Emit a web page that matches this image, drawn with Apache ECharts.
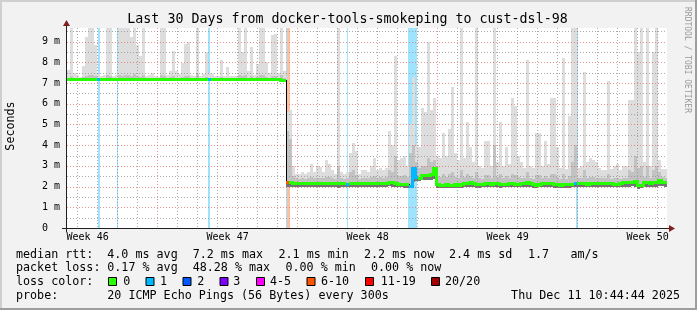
<!DOCTYPE html>
<html><head><meta charset="utf-8">
<script src="https://cdn.jsdelivr.net/npm/echarts@6/dist/echarts.min.js"></script>
<style>html,body{margin:0;padding:0;background:#f2f2f2}#c{width:697px;height:310px}</style>
</head><body><div id="c"></div>
<script>
// ---------- data ----------
const STEP = 0.15; // days per sample column (30 days shown)
const pingMax = [
 7.63,9.7,7.5,7.4,7.3,7.84,9.24,9.7,9.7,8.84,
 7.45,7.35,7.4,9.7,9.7,7.35,7.4,9.7,9.7,9.7,
 9.7,9.24,9.7,8.84,8.32,9.7,7.35,7.4,7.5,7.35,
 7.3,9.7,9.7,7.4,7.6,8.55,7.6,7.45,7.96,8.9,
 9.0,7.4,7.35,9.7,7.35,7.45,8.5,7.5,7.45,7.35,
 7.35,8.1,7.35,7.8,7.35,7.35,7.35,9.7,8.5,9.7,
 7.6,8.75,7.4,7.9,9.7,9.7,8.0,7.5,9.3,9.35,
 7.5,9.7,7.6,
 5.6,5.7,3.0,2.6,2.6,2.7,2.6,2.7,3.1,2.7,
 3.0,2.95,2.7,3.3,3.1,2.8,2.6,9.7,2.7,2.6,
 2.7,3.6,4.1,3.7,2.6,2.8,2.8,2.7,3.0,3.4,
 2.8,2.9,2.8,2.9,4.7,4.0,8.3,3.3,3.4,3.5,
 3.0,5.0,7.3,4.0,3.9,5.8,5.6,9.0,5.7,6.3,
 3.5,3.4,4.6,3.5,4.8,6.8,3.6,3.3,9.7,3.4,
 5.1,3.9,3.2,9.7,3.0,2.9,4.2,4.2,3.0,9.7,
 3.2,5.1,3.0,3.9,3.1,6.3,5.9,3.5,3.2,2.9,
 8.1,3.0,2.9,4.6,4.6,3.0,4.2,3.1,6.3,6.3,
 3.9,2.9,8.2,2.85,5.4,9.7,9.7,2.9,3.0,7.55,
 3.2,3.4,3.3,3.2,2.9,2.8,2.8,7.1,2.85,3.0,
 3.1,2.8,3.0,3.0,6.2,6.2,9.7,8.5,9.7,3.2,
 9.7,3.0,8.5,9.7,3.3,2.85,2.85
];
const pingHi = [
 7.26,7.35,7.26,7.25,7.25,7.3,7.35,7.4,7.4,7.35,
 7.26,7.25,7.26,7.4,7.35,7.25,7.26,7.4,7.35,7.4,
 7.4,7.35,7.45,7.35,7.3,7.4,7.25,7.26,7.26,7.25,
 7.25,7.4,7.35,7.26,7.3,7.35,7.26,7.26,7.3,7.35,
 7.35,7.26,7.25,7.45,7.25,7.26,7.3,7.26,7.26,7.25,
 7.25,7.3,7.25,7.26,7.25,7.25,7.25,7.4,7.35,7.4,
 7.26,7.35,7.26,7.3,7.4,7.4,7.3,7.26,7.35,7.35,
 7.26,7.4,7.26,
 4.7,4.3,2.5,2.4,2.38,2.4,2.38,2.4,2.45,2.4,
 2.42,2.42,2.4,2.45,2.45,2.4,2.38,3.0,2.4,2.38,
 2.4,2.7,2.8,2.55,2.38,2.42,2.42,2.4,2.45,2.5,
 2.42,2.45,2.42,2.45,2.8,2.7,3.5,2.5,2.5,2.55,
 2.45,3.6,4.0,3.2,2.9,3.0,3.0,3.4,3.2,3.3,
 2.5,2.45,2.6,2.45,2.6,2.7,2.45,2.4,2.8,2.45,
 2.6,2.5,2.4,2.7,2.4,2.38,2.55,2.55,2.4,4.0,
 2.45,2.6,2.4,2.5,2.42,2.6,2.55,2.45,2.42,2.4,
 2.7,2.42,2.38,2.55,2.55,2.42,2.5,2.42,2.6,2.6,
 2.45,2.38,2.6,2.36,2.5,3.2,4.0,2.4,2.4,2.8,
 2.42,2.45,2.45,2.42,2.4,2.4,2.4,2.6,2.38,2.4,
 2.42,2.38,2.42,2.42,2.8,2.7,3.5,2.9,3.0,2.45,
 3.0,2.42,2.8,3.0,2.7,2.45,2.42
];
const pingLo = [
 7.13,7.12,7.13,7.13,7.13,7.13,7.12,7.12,7.13,7.13,
 7.13,7.13,7.13,7.12,7.12,7.13,7.13,7.12,7.12,7.13,
 7.14,7.14,7.13,7.13,7.13,7.12,7.13,7.13,7.13,7.13,
 7.13,7.12,7.12,7.13,7.13,7.13,7.13,7.13,7.13,7.12,
 7.12,7.13,7.13,7.12,7.13,7.13,7.13,7.13,7.13,7.13,
 7.13,7.13,7.13,7.13,7.13,7.13,7.13,7.12,7.12,7.12,
 7.13,7.12,7.13,7.13,7.12,7.12,7.13,7.13,7.12,7.12,
 7.13,7.12,7.12,
 2.0,2.0,1.98,1.97,1.97,1.98,1.97,1.97,1.98,1.97,
 1.98,1.97,1.97,1.98,1.97,1.98,1.97,1.95,1.97,1.97,
 1.96,1.97,1.96,1.97,1.97,1.98,1.98,1.97,1.97,1.97,
 1.97,1.98,1.98,1.99,2.02,2.0,1.96,1.96,1.96,1.95,
 1.95,1.93,2.2,2.28,2.25,2.3,2.3,2.3,2.32,2.35,
 1.95,1.94,1.94,1.95,1.94,1.94,1.95,1.94,1.95,1.97,
 1.99,2.0,1.97,1.95,1.95,1.96,1.97,1.98,1.96,1.98,
 1.97,1.95,1.96,1.96,1.97,1.97,1.96,1.96,1.97,1.98,
 2.0,1.99,1.95,1.94,1.96,1.98,1.99,1.98,1.97,1.95,
 1.95,1.94,1.94,1.95,1.95,1.96,1.97,1.97,1.97,1.97,
 1.96,1.97,1.99,1.99,1.98,1.99,1.97,1.97,1.97,1.96,
 1.96,1.97,2.0,2.0,2.0,2.02,2.0,1.9,1.93,2.0,
 2.0,1.99,2.0,2.0,2.05,2.02,2.0
];
const median = [
 7.18,7.18,7.18,7.18,7.18,7.18,7.18,7.18,7.18,7.18,
 7.18,7.18,7.18,7.18,7.18,7.18,7.18,7.18,7.18,7.19,
 7.2,7.2,7.19,7.18,7.18,7.18,7.18,7.18,7.18,7.18,
 7.18,7.18,7.18,7.18,7.18,7.18,7.18,7.18,7.18,7.18,
 7.18,7.18,7.18,7.18,7.18,7.18,7.18,7.19,7.19,7.18,
 7.18,7.18,7.18,7.18,7.18,7.18,7.18,7.18,7.18,7.18,
 7.18,7.18,7.18,7.18,7.18,7.18,7.18,7.18,7.18,7.18,
 7.18,7.17,7.17,
 2.24,2.24,2.16,2.15,2.16,2.17,2.16,2.15,2.16,2.16,
 2.17,2.16,2.15,2.16,2.16,2.17,2.16,2.16,2.15,2.16,
 2.14,2.16,2.16,2.15,2.16,2.16,2.17,2.16,2.16,2.15,
 2.16,2.16,2.17,2.18,2.22,2.22,2.15,2.14,2.14,2.13,
 2.12,2.05,2.9,2.45,2.42,2.55,2.55,2.56,2.6,2.88,
 2.11,2.1,2.1,2.12,2.1,2.1,2.12,2.1,2.12,2.15,
 2.18,2.2,2.15,2.12,2.12,2.13,2.15,2.17,2.14,2.18,
 2.15,2.12,2.13,2.14,2.16,2.16,2.14,2.14,2.15,2.17,
 2.2,2.18,2.12,2.1,2.13,2.17,2.18,2.17,2.15,2.12,
 2.12,2.1,2.11,2.12,2.12,2.13,2.16,2.15,2.15,2.15,
 2.14,2.16,2.18,2.18,2.17,2.18,2.16,2.15,2.15,2.14,
 2.14,2.15,2.2,2.2,2.2,2.22,2.25,2.08,2.1,2.2,
 2.2,2.18,2.2,2.2,2.3,2.22,2.2
];
// loss events (days from start, lost pings of 20)
const lossStart = [1.53, 2.50, 7.03, 10.97, 11.02, 14.00, 17.05, 25.43];
const lossEnd   = [1.65, 2.55, 7.15, 11.02, 11.15, 14.06, 17.50, 25.53];
const lossCount = [1, 1, 1, 1, 8, 1, 1, 1];
// loss legend
const lossLabels = ['0','1','2','3','4-5','6-10','11-19','20/20'];
const lossUpper  = [0, 1, 2, 3, 5, 10, 19, 20];
const lossColors = ['#26ff00','#00b8ff','#0059ff','#7e00ff','#ff00ff','#ff5500','#ff0000','#a10000'];
// axes
const dayLines  = [0.52,1.52,2.52,3.52,4.52,5.52,6.52,7.52,8.52,9.52,10.52,11.52,12.52,13.52,14.52,15.52,16.52,17.52,18.52,19.52,20.52,21.52,22.52,23.52,24.52,25.52,26.52,27.52,28.52,29.52];
const weekLines = [4.52, 11.52, 18.52, 25.52];
const weekLabelDays = [1.03, 8.03, 15.03, 22.03, 29.03];
const weekLabels = ['Week 46','Week 47','Week 48','Week 49','Week 50'];
const yMajor = [1,2,3,4,5,6,7,8,9];
const yMinor = [0.5,1.5,2.5,3.5,4.5,5.5,6.5,7.5,8.5,9.5];
const yTickLabels = ['0  ','1 m','2 m','3 m','4 m','5 m','6 m','7 m','8 m','9 m'];
const Y_MAX = 9.66, X_MAX = 30;
// texts
const titleText = 'Last 30 Days from docker-tools-smokeping to cust-dsl-98';
const rttStats  = ['4.0 ms avg','7.2 ms max','2.1 ms min','2.2 ms now','2.4 ms sd','1.7','am/s'];
const lossStats = ['0.17 % avg','48.28 % max','0.00 % min','0.00 % now'];
const probeText = '20 ICMP Echo Pings (56 Bytes) every 300s';
const dateText  = 'Thu Dec 11 10:44:44 2025';

// ---------- helpers ----------
const MONO = '"DejaVu Sans Mono", monospace';
function bucketOf(n){ for (let j=0;j<lossUpper.length;j++) if (n<=lossUpper[j]) return j; return lossUpper.length-1; }
function columnLoss(t0,t1){ let m=0; for(let k=0;k<lossStart.length;k++){ const ov=Math.min(t1,lossEnd[k])-Math.max(t0,lossStart[k]); if(ov>=0.055) m=Math.max(m,lossCount[k]); } return m; }
function tint(hex,a){ const r=parseInt(hex.substr(1,2),16),g=parseInt(hex.substr(3,2),16),b=parseInt(hex.substr(5,2),16);
  const f=c=>Math.round(255+(c-255)*a); return 'rgb('+f(r)+','+f(g)+','+f(b)+')'; }

const smokeData = median.map((m,i)=>[i*STEP,(i+1)*STEP,pingLo[i],pingHi[i],pingMax[i],m]);
const medData = median.map((m,i)=>[i*STEP,(i+1)*STEP,m,i>0?median[i-1]:m,
  bucketOf(columnLoss(i*STEP,(i+1)*STEP)), i>0?bucketOf(columnLoss((i-1)*STEP,i*STEP)):-1]);
const lossData = lossStart.map((s,i)=>[s,lossEnd[i],lossCount[i]]);

function smokeItem(params, api){
  const cs=params.coordSys;
  const t0=api.value(0),t1=api.value(1),lo=api.value(2),hi=api.value(3),mx=api.value(4),md=api.value(5);
  const xa=Math.round(api.coord([t0,0])[0]), xb=Math.round(api.coord([t1,0])[0]);
  const Y=v=>Math.round(Math.max(cs.y,Math.min(cs.y+cs.height,api.coord([t0,v])[1])));
  const rect=(a,b,c)=>({type:'rect',shape:{x:xa,y:Y(b),width:xb-xa,height:Math.max(0,Y(a)-Y(b))},style:{fill:c}});
  return {type:'group',children:[rect(lo,mx,'#dddddd'),rect(lo,hi,'#c2c2c2'),rect(lo,md,'#747474')]};
}
function lossItem(params, api){
  const cs=params.coordSys;
  const s=api.value(0),e=api.value(1),n=api.value(2);
  const xa=Math.round(api.coord([s,0])[0]); let xb=Math.round(api.coord([e,0])[0]); if(xb<=xa) xb=xa+1;
  return {type:'rect',shape:{x:xa,y:cs.y,width:xb-xa,height:cs.height},style:{fill:tint(lossColors[bucketOf(n)],0.38)}};
}
function gridItem(params, api){
  const cs=params.coordSys, top=cs.y, bot=cs.y+cs.height, left=cs.x, right=cs.x+cs.width;
  const minorC='rgba(143,143,143,0.75)', majorC='rgba(222,79,79,0.6)';
  const kids=[];
  const v=(d,c)=>{const x=Math.round(api.coord([d,0])[0])+0.5; kids.push({type:'line',shape:{x1:x,y1:top,x2:x,y2:bot},style:{stroke:c,lineWidth:1,lineDash:[1,2]}});};
  const h=(val,c)=>{const y=Math.round(api.coord([0,val])[1])+0.5; if(y<top) return; kids.push({type:'line',shape:{x1:left,y1:y,x2:right,y2:y},style:{stroke:c,lineWidth:1,lineDash:[1,2]}});};
  dayLines.forEach(d=>{ if(!weekLines.some(w=>Math.abs(w-d)<1e-6)) v(d,minorC); });
  yMinor.forEach(y=>h(y,minorC));
  weekLines.forEach(d=>v(d,majorC));
  yMajor.forEach(y=>h(y,majorC));
  return {type:'group',children:kids};
}
function medianItem(params, api){
  const t0=api.value(0),t1=api.value(1),m=api.value(2),pm=api.value(3),b=api.value(4),pb=api.value(5);
  const xa=Math.round(api.coord([t0,0])[0]), xb=Math.round(api.coord([t1,0])[0]);
  const yc=Math.round(api.coord([t0,m])[1]), yp=Math.round(api.coord([t0,pm])[1]);
  const col=lossColors[b], kids=[];
  if(yp!==yc){
    const y0=Math.min(yp,yc), dy=Math.abs(yp-yc);
    kids.push({type:'rect',shape:{x:xa,y:y0,width:1,height:dy+1},style:{fill:'#000'}});
    if(pb===b) kids.push({type:'rect',shape:{x:xa-1,y:y0-1,width:3,height:dy+3},style:{fill:col}});
  }
  kids.push({type:'rect',shape:{x:xa,y:yc-1,width:xb-xa,height:3},style:{fill:col}});
  return {type:'group',children:kids};
}

// ---------- graphics (frame, axes, texts) ----------
const g=[];
g.push({type:'rect',shape:{x:0,y:0,width:697,height:2},style:{fill:'#cfcfcf'},z:1});
g.push({type:'rect',shape:{x:0,y:0,width:2,height:310},style:{fill:'#cfcfcf'},z:1});
g.push({type:'rect',shape:{x:0,y:308,width:697,height:2},style:{fill:'#9e9e9e'},z:2});
g.push({type:'rect',shape:{x:695,y:0,width:2,height:310},style:{fill:'#9e9e9e'},z:2});
g.push({type:'line',shape:{x1:62,y1:228.5,x2:671,y2:228.5},style:{stroke:'#1f1f1f',lineWidth:1},z:20});
g.push({type:'line',shape:{x1:66.5,y1:232,x2:66.5,y2:25},style:{stroke:'#1f1f1f',lineWidth:1},z:20});
g.push({type:'polygon',shape:{points:[[669,225],[675,228.5],[669,232]]},style:{fill:'#801f1f'},z:21});
g.push({type:'polygon',shape:{points:[[63,26],[66.5,20],[70,26]]},style:{fill:'#801f1f'},z:21});
function txt(x,y,s,font,opt){ opt=opt||{}; g.push({type:'text',x:x,y:y,rotation:opt.rot||0,z:30,
  style:{text:s,font:font,fill:opt.fill||'#000',align:opt.align||'left',verticalAlign:'middle',textAlign:opt.align||'left',textVerticalAlign:'middle'}}); }
const F_TITLE='13.3px '+MONO, F_LEG='11.7px '+MONO, F_WM='8px '+MONO;
txt(347.5,19.5,titleText,F_TITLE,{align:'center'});
txt(10.5,126,'Seconds',F_LEG,{align:'center',rot:Math.PI/2});
txt(687,60,'RRDTOOL / TOBI OETIKER',F_WM,{align:'center',rot:-Math.PI/2,fill:'#9a9a9a'});
const rowY=[254.5,268.3,282,295.6];
txt(16,rowY[0],'median rtt:',F_LEG);
[107.3,192.7,278.5,364,449,528,570.5].forEach((x,i)=>txt(x,rowY[0],rttStats[i],F_LEG));
txt(16,rowY[1],'packet loss:',F_LEG);
[107.3,192.7,285.5,371].forEach((x,i)=>txt(x,rowY[1],lossStats[i],F_LEG));
txt(16,rowY[2],'loss color:',F_LEG);
const boxX=[108,145.5,182.5,219.5,256,306.5,365,431];
const boxLabelX=[123.3,160,197.3,233.3,270,321,380.7,445];
boxX.forEach((x,i)=>{
  g.push({type:'rect',shape:{x:x+0.5,y:277.5,width:8,height:8},style:{fill:lossColors[i],stroke:'#000',lineWidth:1},z:30});
  txt(boxLabelX[i],rowY[2],lossLabels[i],F_LEG);
});
txt(16,rowY[3],'probe:',F_LEG);
txt(107.3,rowY[3],probeText,F_LEG);
txt(680,rowY[3],dateText,F_LEG,{align:'right'});

// ---------- chart ----------
const chart=echarts.init(document.getElementById('c'),null,{renderer:'canvas',width:697,height:310});
chart.setOption({
  animation:false,
  backgroundColor:'transparent',
  grid:{show:true,backgroundColor:'#ffffff',borderWidth:0,left:67,top:28,width:600,height:200},
  xAxis:{type:'value',min:0,max:X_MAX,axisLine:{show:false},axisTick:{show:false},splitLine:{show:false},
    axisLabel:{customValues:weekLabelDays,margin:4,fontSize:10,fontFamily:MONO,color:'#000',
      formatter:v=>{const i=weekLabelDays.findIndex(d=>Math.abs(d-v)<1e-6);return i>=0?weekLabels[i]:'';}}},
  yAxis:{type:'value',min:0,max:Y_MAX,interval:1,axisLine:{show:false},axisTick:{show:false},splitLine:{show:false},
    axisLabel:{margin:7,fontSize:10,fontFamily:MONO,color:'#000',
      formatter:v=>{const i=Math.round(v);return (Math.abs(i-v)<1e-6&&i<yTickLabels.length)?yTickLabels[i]:'';}}},
  graphic:{elements:g},
  series:[
    {type:'custom',name:'loss',renderItem:lossItem,data:lossData,encode:{x:[0,1],y:2},z:1,silent:true},
    {type:'custom',name:'smoke',renderItem:smokeItem,data:smokeData,encode:{x:[0,1],y:[2,4]},z:2,silent:true},
    {type:'custom',name:'grid',renderItem:gridItem,data:[[0,0]],encode:{x:0,y:1},z:3,silent:true},
    {type:'custom',name:'median',renderItem:medianItem,data:medData,encode:{x:[0,1],y:2},z:4,silent:true}
  ]
});
</script></body></html>
